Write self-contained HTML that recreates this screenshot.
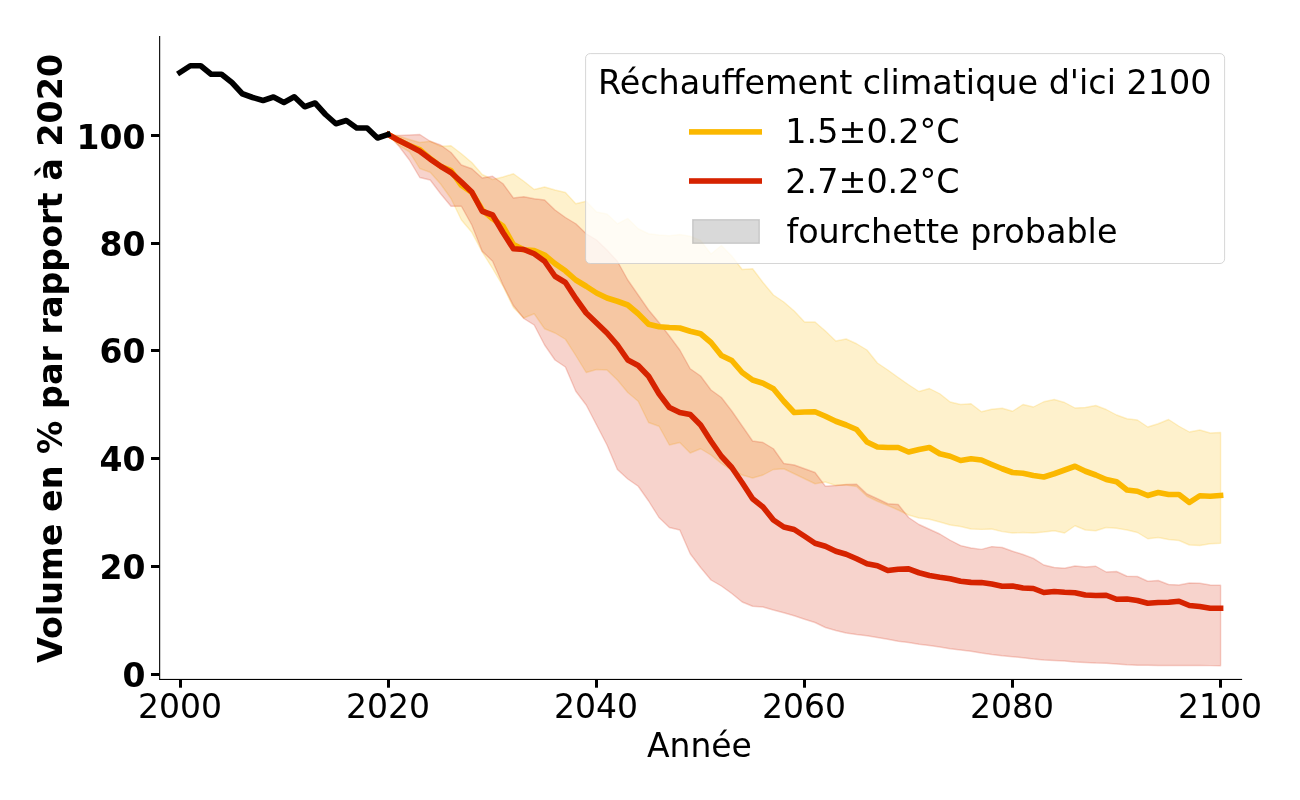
<!DOCTYPE html>
<html lang="fr"><head><meta charset="utf-8"><title>Volume des glaciers</title>
<style>
html,body{margin:0;padding:0;background:#fff;}
svg{display:block;}
text{font-family:"DejaVu Sans","Liberation Sans",sans-serif;font-size:33px;fill:#000;}
.b{font-weight:bold;}
.lg{font-size:33.4px;}
</style></head><body>
<svg width="1300" height="800" viewBox="0 0 1300 800">
<rect width="1300" height="800" fill="#fff"/>
<polygon points="388.6,134.50 399.0,136.25 409.4,139.50 419.8,142.50 430.2,141.25 440.6,146.25 451.0,145.75 461.4,153.75 471.8,162.50 482.2,174.50 492.6,179.50 503.0,177.00 513.4,173.75 523.8,181.25 534.2,189.50 544.6,187.00 555.0,190.00 565.4,192.50 575.8,203.75 586.2,201.25 596.6,212.00 607.0,214.00 617.4,223.80 627.8,218.40 638.2,228.75 648.6,233.75 659.0,235.00 669.4,235.75 679.8,234.50 690.2,236.25 700.6,240.50 711.0,254.00 721.4,245.50 731.8,256.00 742.2,269.50 752.6,268.75 763.0,282.50 773.4,295.00 783.8,302.00 794.2,311.00 804.6,322.00 815.0,322.00 825.4,331.00 835.8,341.00 846.2,339.00 856.6,343.75 867.0,350.00 877.4,363.00 887.8,370.00 898.2,377.50 908.6,384.75 919.0,391.50 929.4,388.50 939.8,393.75 950.2,402.00 960.6,404.50 971.0,403.75 981.4,411.75 991.8,409.25 1002.2,408.25 1012.6,411.25 1023.0,404.50 1033.4,407.00 1043.8,401.75 1054.2,399.50 1064.6,402.50 1075.0,408.00 1085.4,407.50 1095.8,405.50 1106.2,409.50 1116.6,415.00 1127.0,418.75 1137.4,420.00 1147.8,427.00 1158.2,423.75 1168.6,419.50 1179.0,426.25 1189.4,432.00 1199.8,430.00 1210.2,433.00 1220.6,432.50 1220.6,543.25 1210.2,543.75 1199.8,545.50 1189.4,545.00 1179.0,540.50 1168.6,539.50 1158.2,537.50 1147.8,538.75 1137.4,532.50 1127.0,530.00 1116.6,528.25 1106.2,527.50 1095.8,530.75 1085.4,530.00 1075.0,525.75 1064.6,533.00 1054.2,530.75 1043.8,532.00 1033.4,533.00 1023.0,532.50 1012.6,533.00 1002.2,531.60 991.8,529.00 981.4,529.40 971.0,529.00 960.6,526.50 950.2,525.00 939.8,522.00 929.4,519.25 919.0,518.00 908.6,515.00 898.2,510.00 887.8,505.50 877.4,501.25 867.0,496.25 856.6,486.50 846.2,485.00 835.8,485.50 825.4,482.00 815.0,483.75 804.6,478.75 794.2,473.75 783.8,468.75 773.4,469.50 763.0,475.00 752.6,478.00 742.2,475.00 731.8,470.50 721.4,463.50 711.0,455.00 700.6,448.75 690.2,453.00 679.8,442.50 669.4,445.00 659.0,426.25 648.6,422.50 638.2,401.25 627.8,392.50 617.4,380.00 607.0,370.00 596.6,369.50 586.2,372.50 575.8,355.50 565.4,339.25 555.0,333.00 544.6,328.75 534.2,313.75 523.8,318.00 513.4,307.50 503.0,286.25 492.6,268.50 482.2,252.00 471.8,232.30 461.4,220.00 451.0,198.50 440.6,184.00 430.2,172.30 419.8,168.50 409.4,151.80 399.0,145.50 388.6,135.00" fill="#fbb800" fill-opacity="0.2" stroke="#fbb800" stroke-opacity="0.2" stroke-width="1.4" stroke-linejoin="round"/>
<polygon points="388.6,135.00 399.0,135.50 409.4,135.00 419.8,134.50 430.2,141.25 440.6,145.00 451.0,152.50 461.4,165.00 471.8,168.75 482.2,178.00 492.6,176.25 503.0,183.75 513.4,198.00 523.8,196.75 534.2,198.75 544.6,200.00 555.0,210.00 565.4,217.50 575.8,223.75 586.2,233.75 596.6,240.00 607.0,250.00 617.4,261.25 627.8,280.00 638.2,295.00 648.6,310.00 659.0,322.50 669.4,336.00 679.8,350.00 690.2,368.75 700.6,376.00 711.0,390.00 721.4,397.50 731.8,411.00 742.2,426.00 752.6,441.00 763.0,442.50 773.4,448.75 783.8,463.50 794.2,465.00 804.6,468.75 815.0,472.50 825.4,486.25 835.8,485.50 846.2,484.50 856.6,484.25 867.0,494.00 877.4,498.75 887.8,503.75 898.2,504.50 908.6,517.50 919.0,524.50 929.4,529.25 939.8,534.00 950.2,540.25 960.6,545.60 971.0,548.00 981.4,549.40 991.8,546.60 1002.2,547.50 1012.6,551.25 1023.0,554.50 1033.4,558.40 1043.8,565.00 1054.2,567.50 1064.6,568.25 1075.0,566.00 1085.4,567.00 1095.8,566.25 1106.2,572.00 1116.6,571.50 1127.0,576.25 1137.4,576.50 1147.8,581.25 1158.2,580.50 1168.6,584.50 1179.0,585.00 1189.4,583.00 1199.8,583.25 1210.2,585.00 1220.6,585.25 1220.6,665.75 1210.2,665.60 1199.8,665.50 1189.4,665.50 1179.0,665.50 1168.6,665.50 1158.2,665.50 1147.8,665.25 1137.4,665.25 1127.0,664.75 1116.6,664.00 1106.2,663.25 1095.8,663.00 1085.4,662.50 1075.0,662.00 1064.6,661.00 1054.2,660.50 1043.8,660.00 1033.4,659.00 1023.0,657.75 1012.6,656.75 1002.2,655.75 991.8,654.50 981.4,653.00 971.0,651.25 960.6,650.00 950.2,648.75 939.8,647.00 929.4,645.50 919.0,644.25 908.6,642.50 898.2,641.25 887.8,639.25 877.4,637.50 867.0,635.75 856.6,634.50 846.2,633.00 835.8,630.50 825.4,627.50 815.0,622.50 804.6,619.25 794.2,615.75 783.8,612.75 773.4,610.00 763.0,607.00 752.6,606.25 742.2,602.00 731.8,593.50 721.4,586.00 711.0,580.00 700.6,567.50 690.2,553.75 679.8,530.00 669.4,527.50 659.0,517.50 648.6,501.00 638.2,486.25 627.8,479.00 617.4,469.50 607.0,445.00 596.6,425.00 586.2,405.00 575.8,391.25 565.4,367.00 555.0,360.00 544.6,345.00 534.2,325.00 523.8,318.50 513.4,305.50 503.0,285.00 492.6,261.25 482.2,251.25 471.8,225.00 461.4,206.25 451.0,206.25 440.6,193.75 430.2,180.00 419.8,177.50 409.4,160.00 399.0,146.25 388.6,135.00" fill="#d62300" fill-opacity="0.2" stroke="#d62300" stroke-opacity="0.2" stroke-width="1.4" stroke-linejoin="round"/>
<g fill="none" stroke-width="5.6" stroke-linejoin="round" stroke-linecap="square">
<polyline points="388.6,134.60 399.0,140.50 409.4,145.50 419.8,149.50 430.2,158.60 440.6,166.30 451.0,170.60 461.4,185.30 471.8,192.50 482.2,209.80 492.6,218.80 503.0,226.00 513.4,244.50 523.8,249.80 534.2,250.50 544.6,255.00 555.0,263.60 565.4,270.80 575.8,280.00 586.2,286.25 596.6,293.00 607.0,298.00 617.4,301.25 627.8,305.00 638.2,313.75 648.6,324.25 659.0,326.75 669.4,327.50 679.8,328.00 690.2,331.25 700.6,333.75 711.0,342.50 721.4,355.50 731.8,360.50 742.2,372.50 752.6,380.00 763.0,383.25 773.4,388.75 783.8,401.25 794.2,412.50 804.6,412.00 815.0,411.75 825.4,416.25 835.8,421.25 846.2,425.00 856.6,429.50 867.0,442.00 877.4,447.00 887.8,447.50 898.2,447.50 908.6,452.00 919.0,449.50 929.4,447.50 939.8,453.75 950.2,456.25 960.6,460.50 971.0,458.75 981.4,460.00 991.8,464.50 1002.2,468.75 1012.6,472.50 1023.0,473.25 1033.4,475.50 1043.8,477.00 1054.2,473.75 1064.6,470.00 1075.0,466.25 1085.4,471.25 1095.8,475.00 1106.2,479.50 1116.6,481.75 1127.0,490.00 1137.4,491.25 1147.8,495.50 1158.2,492.50 1168.6,494.50 1179.0,494.50 1189.4,502.50 1199.8,495.75 1210.2,496.25 1220.6,495.50" stroke="#fbb800"/>
<polyline points="388.6,134.60 399.0,140.60 409.4,145.80 419.8,151.20 430.2,159.10 440.6,166.25 451.0,172.50 461.4,182.00 471.8,192.00 482.2,211.25 492.6,215.00 503.0,232.50 513.4,248.75 523.8,249.50 534.2,253.75 544.6,261.25 555.0,276.25 565.4,282.50 575.8,298.50 586.2,313.00 596.6,323.00 607.0,333.00 617.4,345.00 627.8,360.00 638.2,365.50 648.6,376.25 659.0,393.75 669.4,407.50 679.8,412.50 690.2,414.50 700.6,425.00 711.0,441.25 721.4,456.25 731.8,467.50 742.2,482.75 752.6,498.75 763.0,507.00 773.4,520.00 783.8,527.00 794.2,529.50 804.6,536.25 815.0,543.25 825.4,546.25 835.8,551.25 846.2,554.25 856.6,558.75 867.0,563.75 877.4,565.75 887.8,570.50 898.2,569.25 908.6,568.90 919.0,572.75 929.4,575.50 939.8,577.25 950.2,578.75 960.6,581.25 971.0,582.40 981.4,582.60 991.8,584.00 1002.2,586.25 1012.6,586.00 1023.0,588.00 1033.4,588.50 1043.8,592.50 1054.2,591.50 1064.6,592.25 1075.0,592.75 1085.4,595.00 1095.8,595.50 1106.2,595.25 1116.6,599.25 1127.0,599.00 1137.4,600.50 1147.8,603.25 1158.2,602.50 1168.6,602.25 1179.0,601.25 1189.4,605.50 1199.8,606.50 1210.2,608.25 1220.6,608.25" stroke="#d62300"/>
<polyline points="179.9,72.50 190.3,65.75 200.7,65.75 211.1,74.25 221.5,74.25 231.9,82.50 242.3,93.75 252.7,97.50 263.1,100.50 273.5,97.00 283.9,102.50 294.3,96.75 304.7,106.75 315.1,103.00 325.5,114.50 335.9,123.75 346.3,120.50 356.7,128.00 367.1,128.00 377.5,138.00 387.9,134.50" stroke="#000"/>
</g>
<rect x="159.1" y="36" width="1.1" height="644" fill="#000"/>
<rect x="159.1" y="678.9" width="1083" height="1.1" fill="#000"/>
<g><rect x="179.00" y="679.5" width="3" height="8.2" fill="#000"/><text x="180.0" y="718" text-anchor="middle">2000</text><rect x="387.00" y="679.5" width="3" height="8.2" fill="#000"/><text x="388.0" y="718" text-anchor="middle">2020</text><rect x="595.00" y="679.5" width="3" height="8.2" fill="#000"/><text x="596.0" y="718" text-anchor="middle">2040</text><rect x="803.00" y="679.5" width="3" height="8.2" fill="#000"/><text x="804.0" y="718" text-anchor="middle">2060</text><rect x="1011.00" y="679.5" width="3" height="8.2" fill="#000"/><text x="1012.0" y="718" text-anchor="middle">2080</text><rect x="1219.00" y="679.5" width="3" height="8.2" fill="#000"/><text x="1220.0" y="718" text-anchor="middle">2100</text></g>
<g class="b"><rect x="151" y="673.00" width="8.5" height="3" fill="#000"/><text x="145.5" y="687.10" text-anchor="end">0</text><rect x="151" y="565.00" width="8.5" height="3" fill="#000"/><text x="145.5" y="579.00" text-anchor="end">20</text><rect x="151" y="457.00" width="8.5" height="3" fill="#000"/><text x="145.5" y="470.60" text-anchor="end">40</text><rect x="151" y="349.00" width="8.5" height="3" fill="#000"/><text x="145.5" y="363.00" text-anchor="end">60</text><rect x="151" y="242.00" width="8.5" height="3" fill="#000"/><text x="145.5" y="256.20" text-anchor="end">80</text><rect x="151" y="134.00" width="8.5" height="3" fill="#000"/><text x="145.5" y="148.50" text-anchor="end">100</text></g>
<text x="699.4" y="756.8" text-anchor="middle">Année</text>
<text class="b" style="font-size:33.37px" transform="translate(62.2,358.5) rotate(-90)" text-anchor="middle">Volume en % par rapport à 2020</text>
<rect x="585.6" y="53.6" width="639" height="209.9" rx="4.6" ry="4.6" fill="#fff" fill-opacity="0.8" stroke="#ccc" stroke-opacity="0.8" stroke-width="1.0"/>
<text class="lg" x="598" y="94">Réchauffement climatique d'ici 2100</text>
<rect x="689" y="129.1" width="73" height="5.6" fill="#fbb800"/>
<text class="lg" x="785.3" y="143">1.5±0.2°C</text>
<rect x="689" y="178.2" width="73" height="5.6" fill="#d62300"/>
<text class="lg" x="785.3" y="193">2.7±0.2°C</text>
<rect x="692.7" y="219.7" width="66.6" height="23.6" fill="#808080" fill-opacity="0.3" stroke="#808080" stroke-opacity="0.3" stroke-width="1.4"/>
<text class="lg" x="786.4" y="242.8">fourchette probable</text>
</svg>
</body></html>
